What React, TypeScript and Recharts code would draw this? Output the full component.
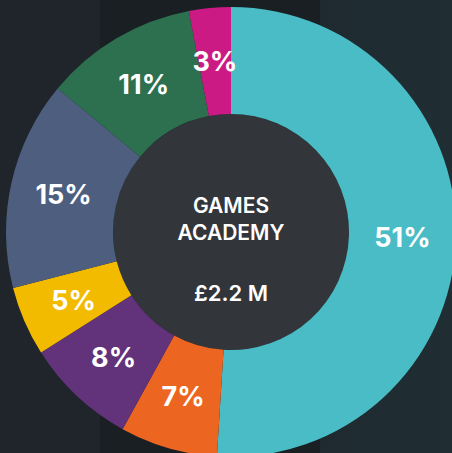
import { PieChart, Pie, Cell } from "recharts";

const segments = ["Cyan", "Orange", "Purple", "Yellow", "Slate", "Green", "Magenta"];
const shares = [51, 7, 8, 5, 15, 11, 3];
const colors = ["#4abcc5", "#ec6621", "#62337a", "#f2bb00", "#4d5e7e", "#2d7050", "#cc1a84"];
const centerTitle = ["GAMES", "ACADEMY"];
const centerValue = "£2.2 M";

const data = segments.map((name, i) => ({ name, value: shares[i] }));
const hub = [{ name: "hub", value: 1 }];

const RADIAN = Math.PI / 180;

const renderLabel = (props: any) => {
  const { cx, cy, midAngle, innerRadius, outerRadius, value } = props;
  const r = (innerRadius + outerRadius) / 2;
  const x = cx + r * Math.cos(-midAngle * RADIAN);
  const y = cy + r * Math.sin(-midAngle * RADIAN);
  return (
    <text
      x={x}
      y={y}
      fill="#ffffff"
      textAnchor="middle"
      dominantBaseline="central"
      fontSize={27}
      fontWeight={700}
      fontFamily="Inter, 'Noto Sans', sans-serif"
    >
      {value}%
    </text>
  );
};

export default function App() {
  return (
    <div
      style={{
        position: "fixed",
        top: 0,
        left: 0,
        width: 452,
        height: 453,
        overflow: "hidden",
        background:
          "linear-gradient(to right, #1f252b 0px, #1f252b 100px, #1a1f24 100px, #1a1f24 320px, #1e2a30 320px, #202e34 452px)",
        fontFamily: "Inter, 'Noto Sans', sans-serif",
      }}
    >
      <PieChart width={452} height={453} margin={{ top: 0, right: 0, bottom: 0, left: 0 }}>
        <Pie
          data={hub}
          dataKey="value"
          cx={231}
          cy={232}
          outerRadius={118}
          fill="#32363a"
          stroke="none"
          isAnimationActive={false}
        />
        <Pie
          data={data}
          dataKey="value"
          cx={231}
          cy={232}
          innerRadius={118}
          outerRadius={225}
          startAngle={90}
          endAngle={-270}
          stroke="none"
          label={renderLabel}
          labelLine={false}
          isAnimationActive={false}
        >
          {data.map((d, i) => (
            <Cell key={d.name} fill={colors[i]} />
          ))}
        </Pie>
      </PieChart>
      <div
        style={{
          position: "absolute",
          left: 131,
          top: 192,
          width: 200,
          textAlign: "center",
          color: "#ffffff",
          fontSize: 21,
          fontWeight: 600,
          lineHeight: "27px",
        }}
      >
        {centerTitle.map((t) => (
          <div key={t}>{t}</div>
        ))}
      </div>
      <div
        style={{
          position: "absolute",
          left: 131,
          top: 280,
          width: 200,
          textAlign: "center",
          color: "#ffffff",
          fontSize: 22,
          fontWeight: 600,
          lineHeight: "27px",
        }}
      >
        {centerValue}
      </div>
    </div>
  );
}
